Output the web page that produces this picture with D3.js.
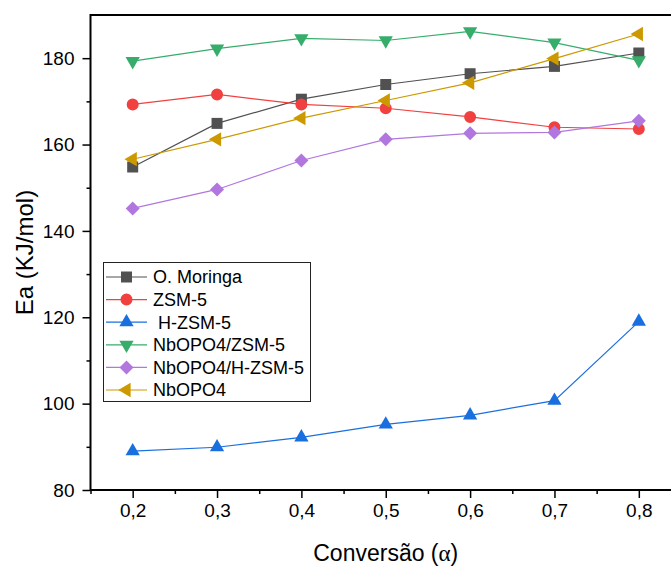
<!DOCTYPE html>
<html>
<head>
<meta charset="utf-8">
<script src="https://cdn.jsdelivr.net/npm/d3@7"></script>
<style>
  body { margin: 0; background: #fff; }
  svg { display: block; font-family: "Liberation Sans", Arial, sans-serif; }
</style>
</head>
<body>
<svg id="chart" width="671" height="566"></svg>
<script>
var conversion = [0.2, 0.3, 0.4, 0.5, 0.6, 0.7, 0.8];
var xTickLabels = ['0,2', '0,3', '0,4', '0,5', '0,6', '0,7', '0,8'];
var yTicks = [80, 100, 120, 140, 160, 180];

var seriesNames = ['O. Moringa', 'ZSM-5', ' H-ZSM-5', 'NbOPO4/ZSM-5', 'NbOPO4/H-ZSM-5', 'NbOPO4'];
var moringa = [154.8, 164.9, 170.5, 173.9, 176.4, 178.1, 181.2];
var zsm5 = [169.3, 171.6, 169.3, 168.4, 166.4, 164.0, 163.6];
var hzsm5 = [89.0, 89.9, 92.2, 95.2, 97.3, 100.7, 119.0];
var nbZsm5 = [179.3, 182.2, 184.6, 184.1, 186.2, 183.6, 179.5];
var nbHzsm5 = [145.2, 149.6, 156.3, 161.2, 162.6, 162.8, 165.5];
var nbopo4 = [156.6, 161.2, 166.1, 170.2, 174.3, 179.9, 185.6];

var seriesValues = [moringa, zsm5, hzsm5, nbZsm5, nbHzsm5, nbopo4];
var seriesColors = ['#515151', '#F14040', '#1A6FDF', '#37AD6B', '#B177DE', '#CC9900'];

// marker shapes, Origin style
var markers = [
  { type: d3.symbolSquare, size: 121, rotate: 0 },
  { type: d3.symbolCircle, size: 113, rotate: 0 },
  { type: d3.symbolTriangle, size: 88, rotate: 0 },
  { type: d3.symbolTriangle, size: 88, rotate: 180 },
  { type: d3.symbolSquare, size: 98, rotate: 45 },
  { type: d3.symbolTriangle, size: 88, rotate: -90 }
];

var svg = d3.select('#chart');
var plotLeft = 90.5, plotRight = 681, plotTop = 15, plotBottom = 490;

var x = d3.scaleLinear().domain([0.15, 0.85]).range([plotLeft, plotRight]);
var y = d3.scaleLinear().domain([80, 190]).range([plotBottom, plotTop]);

var minorX = d3.range(0.15, 0.86, 0.1).map(function(d) { return +d.toFixed(2); });
var minorY = d3.range(90, 190, 20);

// axes
svg.append('g')
  .attr('transform', 'translate(0,' + plotBottom + ')')
  .call(d3.axisBottom(x).tickValues(conversion).tickSize(8).tickPadding(6)
    .tickFormat(function(d, i) { return xTickLabels[i]; }));
svg.append('g')
  .attr('transform', 'translate(0,' + plotBottom + ')')
  .call(d3.axisBottom(x).tickValues(minorX).tickSize(4).tickFormat(''));

svg.append('g')
  .attr('transform', 'translate(' + plotLeft + ',0)')
  .call(d3.axisLeft(y).tickValues(yTicks).tickSize(8).tickPadding(8));
svg.append('g')
  .attr('transform', 'translate(' + plotLeft + ',0)')
  .call(d3.axisLeft(y).tickValues(minorY).tickSize(4).tickFormat(''));

svg.selectAll('.domain').remove();
svg.selectAll('.tick line').attr('stroke', '#000').attr('stroke-width', 1.5);
svg.selectAll('.tick text')
  .attr('fill', '#000')
  .style('font-size', '19px')
  .style('font-family', '"Liberation Sans", Arial, sans-serif');

// frame (right side falls outside the page)
svg.append('path')
  .attr('d', 'M' + plotRight + ',' + plotTop + 'H' + plotLeft + 'V' + plotBottom + 'H' + plotRight)
  .attr('fill', 'none')
  .attr('stroke', '#000')
  .attr('stroke-width', 2);

// axis titles
var xTitle = svg.append('text')
  .attr('x', (plotLeft + plotRight) / 2)
  .attr('y', 561)
  .attr('text-anchor', 'middle')
  .style('font-size', '23px');
xTitle.append('tspan').text('Conversão (');
xTitle.append('tspan').style('font-family', '"Liberation Serif", serif').text('α');
xTitle.append('tspan').text(')');

svg.append('text')
  .attr('transform', 'translate(33,' + (plotTop + plotBottom) / 2 + ') rotate(-90)')
  .attr('text-anchor', 'middle')
  .style('font-size', '24px')
  .text('Ea (KJ/mol)');

// series
var line = d3.line()
  .x(function(d, i) { return x(conversion[i]); })
  .y(function(d) { return y(d); });

function symbolPath(m) {
  return d3.symbol().type(m.type).size(m.size)();
}

var plots = svg.append('g').attr('class', 'plots');
seriesValues.forEach(function(values, s) {
  var g = plots.append('g');
  g.append('path')
    .attr('d', line(values))
    .attr('fill', 'none')
    .attr('stroke', seriesColors[s])
    .attr('stroke-width', 1.2);
  g.selectAll('path.marker')
    .data(values)
    .enter()
    .append('path')
    .attr('class', 'marker')
    .attr('d', symbolPath(markers[s]))
    .attr('fill', seriesColors[s])
    .attr('transform', function(d, i) {
      return 'translate(' + x(conversion[i]) + ',' + y(d) + ') rotate(' + markers[s].rotate + ')';
    });
});

// legend
var legend = svg.append('g').attr('class', 'legend');
legend.append('rect')
  .attr('x', 103.5).attr('y', 262.5)
  .attr('width', 207).attr('height', 139)
  .attr('fill', '#fff')
  .attr('stroke', '#222')
  .attr('stroke-width', 1);

seriesNames.forEach(function(name, s) {
  var cy = 277 + s * 22.6;
  var row = legend.append('g');
  row.append('line')
    .attr('x1', 106).attr('x2', 147)
    .attr('y1', cy).attr('y2', cy)
    .attr('stroke', seriesColors[s])
    .attr('stroke-width', 1.2);
  row.append('path')
    .attr('d', symbolPath(markers[s]))
    .attr('fill', seriesColors[s])
    .attr('transform', 'translate(126.5,' + cy + ') rotate(' + markers[s].rotate + ')');
  row.append('text')
    .attr('x', 153)
    .attr('y', cy)
    .attr('dy', '0.36em')
    .style('font-size', '18px')
    .style('white-space', 'pre')
    .attr('xml:space', 'preserve')
    .text(name);
});
</script>
</body>
</html>
